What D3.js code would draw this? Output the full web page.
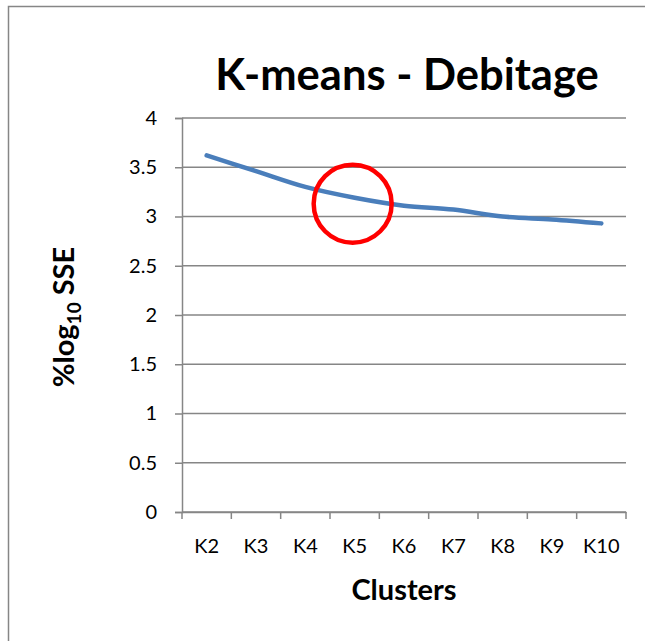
<!DOCTYPE html>
<html>
<head>
<meta charset="utf-8">
<script src="https://cdn.jsdelivr.net/npm/d3@7.9.0/dist/d3.min.js"></script>
<style>
  body { margin: 0; background: #fff; }
  svg { display: block; }
  svg text { font-family: Lato, "Open Sans", sans-serif; }
</style>
</head>
<body>
<svg id="chart" width="645" height="641"></svg>
<script>
// chart data
const clusters = ['K2', 'K3', 'K4', 'K5', 'K6', 'K7', 'K8', 'K9', 'K10'];
const sseLog = [3.62, 3.46, 3.30, 3.19, 3.11, 3.07, 3.00, 2.97, 2.93];
const yTicks = [0, 0.5, 1, 1.5, 2, 2.5, 3, 3.5, 4];
// highlighted elbow
const elbow = { cluster: 'K5', value: 3.13 };

const svg = d3.select('#chart');

// outer chart border (runs off the right and bottom edges)
svg.append('rect')
  .attr('x', 8.5).attr('y', 6.5)
  .attr('width', 700).attr('height', 700)
  .attr('fill', 'none')
  .attr('stroke', '#868686')
  .attr('stroke-width', 1.5);

const margin = { left: 182, right: 19, top: 118, bottom: 129 };
const width = 645 - margin.left - margin.right;
const height = 641 - margin.top - margin.bottom;

const x = d3.scaleBand().domain(clusters).range([0, width]);
const y = d3.scaleLinear().domain([0, 4]).range([height, 0]);

const g = svg.append('g').attr('transform', `translate(${margin.left},${margin.top})`);

// gridlines
g.append('g')
  .selectAll('line')
  .data(yTicks)
  .join('line')
  .attr('x1', 0).attr('x2', width)
  .attr('y1', d => y(d)).attr('y2', d => y(d))
  .attr('stroke', '#868686')
  .attr('stroke-width', 1.5);

// y axis
const yAxis = g.append('g')
  .call(d3.axisLeft(y).tickValues(yTicks).tickSize(7).tickPadding(18).tickFormat(d3.format('')));
yAxis.select('.domain').attr('stroke', '#868686').attr('stroke-width', 1.5);
yAxis.selectAll('.tick line').attr('stroke', '#868686').attr('stroke-width', 1.5);
yAxis.selectAll('text').attr('font-size', 20).attr('fill', '#000');

// x axis: ticks on band boundaries
const xAxis = g.append('g').attr('transform', `translate(0,${height})`)
  .call(d3.axisBottom(x).tickSize(0).tickPadding(27));
xAxis.select('.domain').attr('stroke', '#868686').attr('stroke-width', 1.5);
xAxis.selectAll('text').attr('font-size', 20).attr('fill', '#000');
xAxis.selectAll('.edge')
  .data(d3.range(clusters.length + 1))
  .join('line')
  .attr('x1', i => i * x.bandwidth()).attr('x2', i => i * x.bandwidth())
  .attr('y1', 0).attr('y2', 7)
  .attr('stroke', '#868686')
  .attr('stroke-width', 1.5);

// series line
const line = d3.line()
  .x((d, i) => x(clusters[i]) + x.bandwidth() / 2)
  .y(d => y(d))
  .curve(d3.curveMonotoneX);

g.append('path')
  .datum(sseLog)
  .attr('d', line)
  .attr('fill', 'none')
  .attr('stroke', '#4A7EBB')
  .attr('stroke-width', 4.5)
  .attr('stroke-linecap', 'round');

// red circle annotation
g.append('circle')
  .attr('cx', x(elbow.cluster) + x.bandwidth() / 2 - 2)
  .attr('cy', y(elbow.value))
  .attr('r', 39)
  .attr('fill', 'none')
  .attr('stroke', '#FF0000')
  .attr('stroke-width', 4.5);

// title
svg.append('text')
  .attr('x', 407).attr('y', 90)
  .attr('text-anchor', 'middle')
  .attr('font-size', 43.5)
  .attr('font-weight', 'bold')
  .text('K-means - Debitage');

// axis titles
svg.append('text')
  .attr('x', 404).attr('y', 600)
  .attr('text-anchor', 'middle')
  .attr('font-size', 29)
  .attr('font-weight', 'bold')
  .text('Clusters');

const yt = svg.append('text')
  .attr('transform', 'translate(74,317) rotate(-90)')
  .attr('text-anchor', 'middle')
  .attr('font-size', 29)
  .attr('font-weight', 'bold');
yt.append('tspan').text('%log');
yt.append('tspan').attr('font-size', 19).attr('dy', 7).text('10');
yt.append('tspan').attr('dy', -7).text(' SSE');
</script>
</body>
</html>
